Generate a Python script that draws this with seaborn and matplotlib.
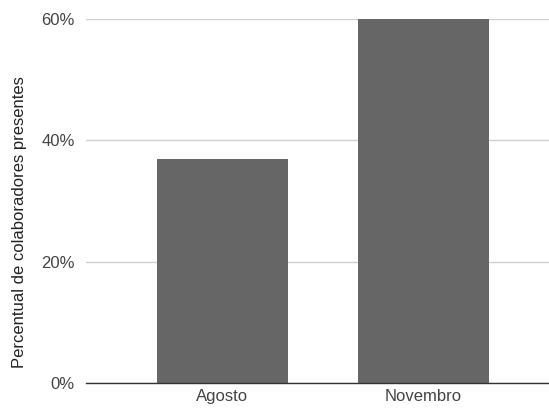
import matplotlib
matplotlib.use("Agg")
import matplotlib.pyplot as plt
import seaborn as sns
import pandas as pd
from matplotlib.ticker import FuncFormatter

categories = ["Agosto", "Novembro"]
values = [0.37, 0.60]
yticks = [0, 0.2, 0.4, 0.6]

sns.set_theme(style="white")
plt.rcParams['font.family'] = ['Liberation Sans', 'DejaVu Sans']

df = pd.DataFrame({"mes": categories, "pct": values})

fig = plt.figure(figsize=(5.49, 4.08), dpi=100)
ax = fig.add_axes([86/549, 1-383/408, 1-86/549, (383-19)/408])

sns.barplot(data=df, x="mes", y="pct", color="#666666", width=0.65,
            saturation=1, ax=ax, edgecolor="none")

ax.set_ylim(0, 0.6)
ax.set_xlim(-0.68, 1.626)
ax.set_yticks(yticks)
ax.yaxis.set_major_formatter(FuncFormatter(lambda v, p: f"{v*100:.0f}%"))
ax.grid(axis="y", color="#d0d0d0", linewidth=1)
ax.set_axisbelow(True)
for s in ["top", "right", "left"]:
    ax.spines[s].set_visible(False)
ax.spines["bottom"].set_color("#333333")
ax.spines["bottom"].set_linewidth(1)
ax.tick_params(axis="both", length=0, labelsize=12, colors="#444444")
ax.tick_params(axis="y", pad=8)
ax.tick_params(axis="x", pad=4)
ax.set_xlabel("")
ax.set_ylabel("Percentual de colaboradores presentes", fontsize=12, color="#222222")
ax.yaxis.set_label_coords(-(86-27)/(549-86), (383-222)/(383-19))

fig.savefig("out.png", dpi=100)
